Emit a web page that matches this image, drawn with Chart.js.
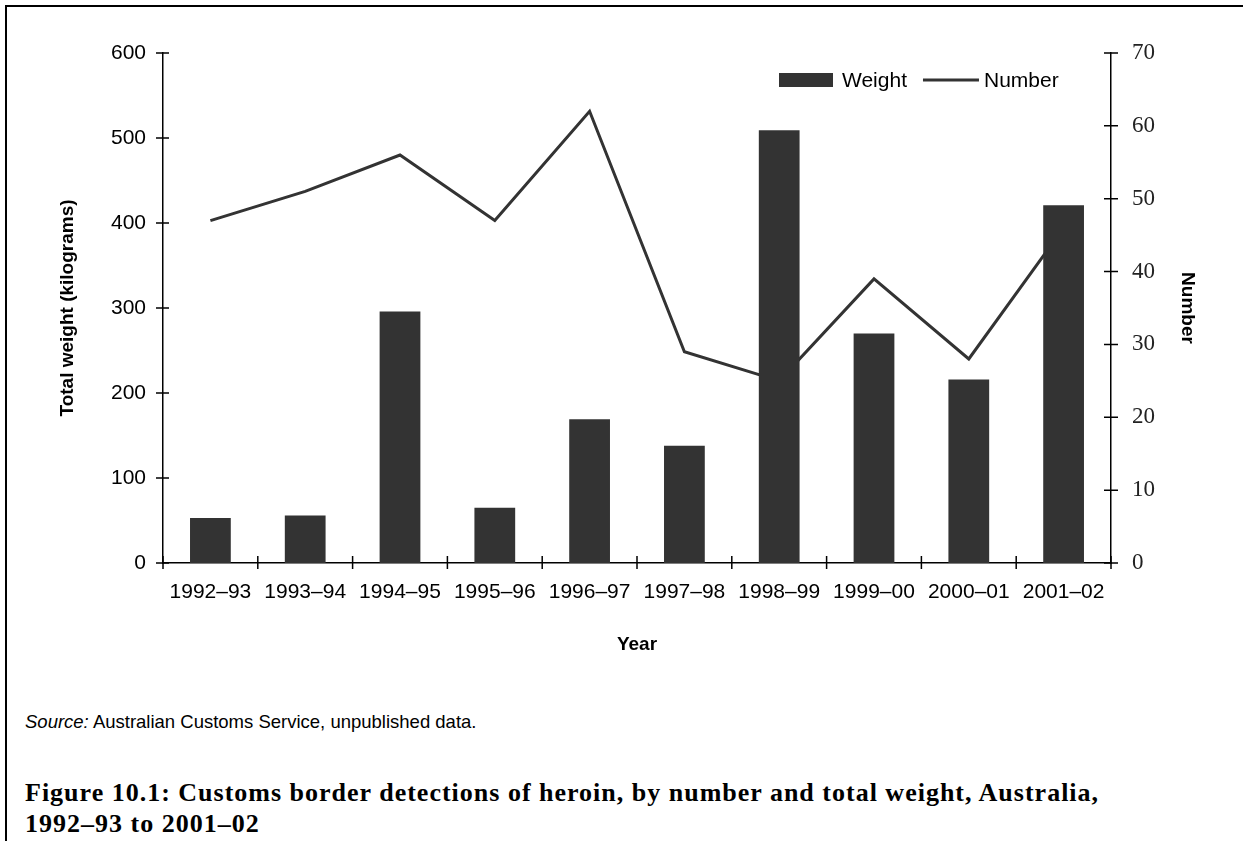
<!DOCTYPE html>
<html>
<head>
<meta charset="utf-8">
<title>Customs border detections of heroin</title>
<script src="https://cdn.jsdelivr.net/npm/chart.js@4.4.1/dist/chart.umd.min.js"></script>
<style>
  html, body { margin: 0; padding: 0; background: #fff; }
  body { width: 1243px; height: 841px; position: relative; overflow: hidden; }
  #frame {
    position: absolute; left: 5px; top: 5px; right: 0; bottom: 0;
    border-top: 2px solid #000; border-left: 2px solid #000;
  }
  #chart { position: absolute; left: 0; top: 0; }
  #source {
    position: absolute; left: 25px; top: 711px;
    font: 18.5px "Liberation Sans", Arial, sans-serif; color: #000;
  }
  #caption {
    position: absolute; left: 25px; top: 777px;
    font: bold 26px "Liberation Serif", "Times New Roman", serif;
    letter-spacing: 1px; line-height: 31px; color: #000;
  }
</style>
</head>
<body>
<div id="frame"></div>
<canvas id="chart" width="1243" height="656"></canvas>
<div id="source"><i>Source:</i> Australian Customs Service, unpublished data.</div>
<div id="caption">Figure 10.1: Customs border detections of heroin, by number and total weight, Australia,<br>1992–93 to 2001–02</div>

<script>
// --- DATA ---
const years = ["1992–93", "1993–94", "1994–95", "1995–96", "1996–97",
               "1997–98", "1998–99", "1999–00", "2000–01", "2001–02"];
const weightKg = [53, 56, 296, 65, 169, 138, 509, 270, 216, 421];
const detections = [47, 51, 56, 47, 62, 29, 25, 39, 28, 46];

const DARK = "#333333";

// tick marks that cross the axis lines, like the original figure
const crossTicks = {
  id: "crossTicks",
  afterDraw(chart) {
    const { ctx, scales: { x, y, y1 } } = chart;
    ctx.save();
    ctx.strokeStyle = "#000";
    ctx.lineWidth = 1.5;
    ctx.beginPath();
    y.ticks.forEach((t) => {
      const p = y.getPixelForValue(t.value);
      ctx.moveTo(y.right - 7, p);
      ctx.lineTo(y.right + 6, p);
    });
    y1.ticks.forEach((t) => {
      const p = y1.getPixelForValue(t.value);
      ctx.moveTo(y1.left - 7, p);
      ctx.lineTo(y1.left + 7, p);
    });
    for (let i = 0; i <= years.length; i++) {
      const p = x.getPixelForValue(i - 0.5);
      ctx.moveTo(p, x.top - 7);
      ctx.lineTo(p, x.top + 6);
    }
    ctx.stroke();
    ctx.restore();
  }
};

// small legend drawn inside the plot, top right
const innerLegend = {
  id: "innerLegend",
  afterDraw(chart) {
    const { ctx, chartArea } = chart;
    const [bars, line] = chart.data.datasets;
    const yMid = chartArea.top + 27;
    let xPos = chartArea.right - 332;
    ctx.save();
    ctx.font = '21px "Liberation Sans", Arial, sans-serif';
    ctx.textBaseline = "middle";

    ctx.fillStyle = bars.backgroundColor;
    ctx.fillRect(xPos, yMid - 7, 54, 14);
    ctx.fillStyle = "#000";
    ctx.fillText(bars.label, xPos + 63, yMid + 1);
    xPos += 63 + ctx.measureText(bars.label).width + 16;

    ctx.strokeStyle = line.borderColor;
    ctx.lineWidth = 3;
    ctx.beginPath();
    ctx.moveTo(xPos, yMid);
    ctx.lineTo(xPos + 56, yMid);
    ctx.stroke();
    ctx.fillText(line.label, xPos + 61, yMid + 1);
    ctx.restore();
  }
};

const sans = '"Liberation Sans", Arial, sans-serif';
const serif = '"Liberation Serif", "Times New Roman", serif';

new Chart(document.getElementById("chart"), {
  type: "bar",
  data: {
    labels: years,
    datasets: [
      {
        type: "bar",
        label: "Weight",
        data: weightKg,
        yAxisID: "y",
        backgroundColor: DARK,
        borderWidth: 0,
        barPercentage: 0.43,
        categoryPercentage: 1,
        order: 1
      },
      {
        type: "line",
        label: "Number",
        data: detections,
        yAxisID: "y1",
        borderColor: DARK,
        borderWidth: 3,
        borderJoinStyle: "miter",
        pointRadius: 0,
        tension: 0,
        fill: false,
        order: 2
      }
    ]
  },
  options: {
    responsive: false,
    animation: false,
    devicePixelRatio: 1,
    layout: { padding: { top: 53, left: 0, right: 0, bottom: 0 } },
    plugins: {
      legend: { display: false },
      tooltip: { enabled: false }
    },
    scales: {
      x: {
        offset: true,
        grid: { display: false, drawTicks: false },
        border: { display: true, color: "#000", width: 1.5 },
        ticks: { color: "#000", font: { family: sans, size: 21 }, padding: 17, maxRotation: 0 },
        title: {
          display: true, text: "Year", color: "#000",
          font: { family: sans, size: 19, weight: "bold" },
          padding: { top: 0, bottom: 0 }
        },
        afterFit(scale) { scale.height = 93; }
      },
      y: {
        position: "left",
        min: 0, max: 600,
        grid: { display: false, drawTicks: false },
        border: { display: true, color: "#000", width: 1.5 },
        ticks: { stepSize: 100, color: "#000", font: { family: sans, size: 21 }, padding: 17 },
        title: {
          display: true, text: "Total weight (kilograms)", color: "#000",
          font: { family: sans, size: 19, weight: "bold" },
          padding: { top: 56, bottom: 0 }
        },
        afterFit(scale) { scale.width = 163; }
      },
      y1: {
        position: "right",
        min: 0, max: 70,
        grid: { display: false, drawTicks: false },
        border: { display: true, color: "#000", width: 1.5 },
        ticks: { stepSize: 10, color: "#222", font: { family: serif, size: 23 }, padding: 21 },
        title: {
          display: true, text: "Number", color: "#000",
          font: { family: sans, size: 19, weight: "bold" },
          padding: { top: 44, bottom: 0 }
        },
        afterFit(scale) { scale.width = 132; }
      }
    }
  },
  plugins: [crossTicks, innerLegend]
});
</script>
</body>
</html>
